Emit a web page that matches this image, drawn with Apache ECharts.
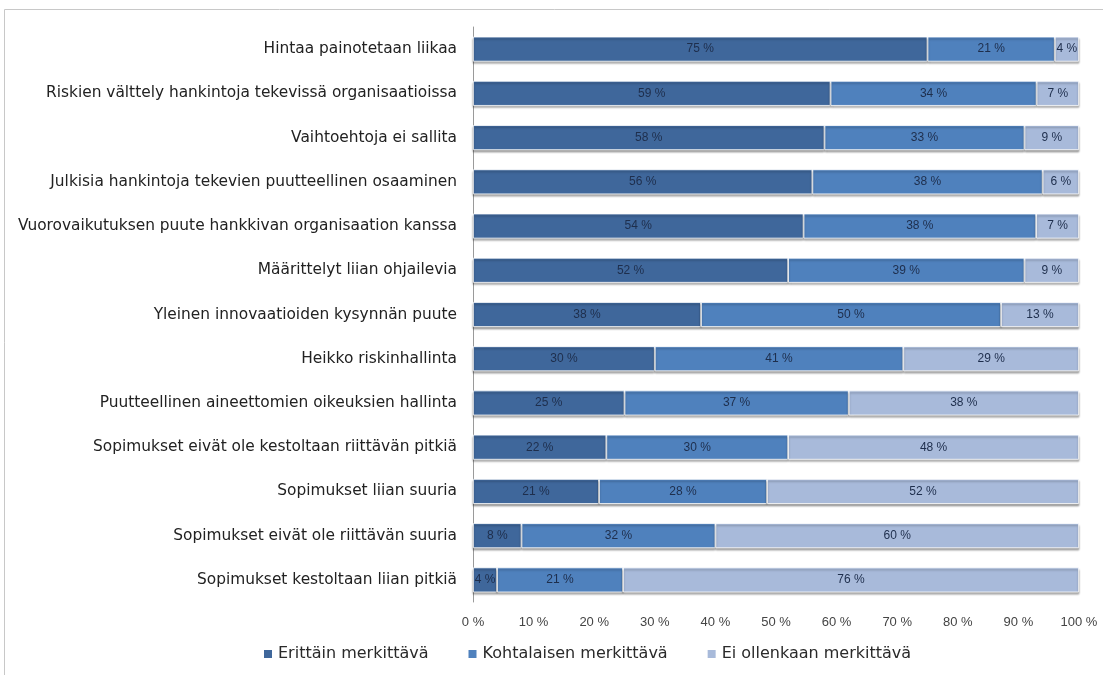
<!DOCTYPE html>
<html><head><meta charset="utf-8">
<script src="https://cdn.jsdelivr.net/npm/echarts@6/dist/echarts.min.js"></script>
<style>html,body{margin:0;padding:0;background:#fff}#c{width:1103px;height:675px}</style>
</head><body><div id="c"></div>
<script>
const categories = [
  "Hintaa painotetaan liikaa",
  "Riskien välttely hankintoja tekevissä organisaatioissa",
  "Vaihtoehtoja ei sallita",
  "Julkisia hankintoja tekevien puutteellinen osaaminen",
  "Vuorovaikutuksen puute hankkivan organisaation kanssa",
  "Määrittelyt liian ohjailevia",
  "Yleinen innovaatioiden kysynnän puute",
  "Heikko riskinhallinta",
  "Puutteellinen aineettomien oikeuksien hallinta",
  "Sopimukset eivät ole kestoltaan riittävän pitkiä",
  "Sopimukset liian suuria",
  "Sopimukset eivät ole riittävän suuria",
  "Sopimukset kestoltaan liian pitkiä"
];
const erittain = [75, 59, 58, 56, 54, 52, 38, 30, 25, 22, 21, 8, 4];
const kohtalaisen = [21, 34, 33, 38, 38, 39, 50, 41, 37, 30, 28, 32, 21];
const eiOllenkaan = [4, 7, 9, 6, 7, 9, 13, 29, 38, 48, 52, 60, 76];
const seriesNames = ["Erittäin merkittävä", "Kohtalaisen merkittävä", "Ei ollenkaan merkittävä"];
const xTicks = [0, 10, 20, 30, 40, 50, 60, 70, 80, 90, 100];

const raw = [erittain, kohtalaisen, eiOllenkaan];
const totals = categories.map((_, i) => erittain[i] + kohtalaisen[i] + eiOllenkaan[i]);
const colors = ['#3F679B', '#4F81BD', '#A8BADA'];
const font = 'Liberation Sans';
const wide = 'DejaVu Sans';

const chart = echarts.init(document.getElementById('c'));
chart.setOption({
  animation: false,
  graphic: [{type: 'rect', shape: {x: 4.5, y: 9.5, width: 1120, height: 700}, style: {fill: 'none', stroke: '#c8c8c8', lineWidth: 1}, silent: true}],
  grid: {left: 473, right: 24, top: 27, bottom: 73, containLabel: false},
  legend: {
    bottom: 8, left: 257, itemWidth: 10, itemHeight: 10, itemGap: 38, icon: 'rect',
    textStyle: {fontFamily: wide, fontSize: 16, color: '#2a2a2a'},
    data: seriesNames
  },
  xAxis: {
    type: 'value', min: 0, max: 100, interval: 10,
    axisLine: {show: false}, axisTick: {show: false}, splitLine: {show: false},
    axisLabel: {formatter: v => xTicks.includes(v) ? v + ' %' : '', fontFamily: font, fontSize: 13, color: '#444', margin: 14}
  },
  yAxis: {
    type: 'category', inverse: true, data: categories,
    axisLine: {show: true, lineStyle: {color: '#9a9a9a', width: 1}}, axisTick: {show: false},
    axisLabel: {fontFamily: wide, fontSize: 15.4, color: '#222', margin: 16}
  },
  series: raw.map((arr, s) => ({
    name: seriesNames[s], type: 'bar', stack: 'all', barWidth: 25,
    itemStyle: {color: colors[s], borderColor: '#fff', borderWidth: 0.8, shadowColor: 'rgba(0,0,0,0.35)', shadowOffsetY: 2, shadowBlur: 2},
    label: {show: true, position: 'inside', fontFamily: font, fontSize: 12, color: '#1E2E4C',
      formatter: p => raw[s][p.dataIndex] + ' %'},
    data: arr.map((v, i) => v / totals[i] * 100)
  }))
});
</script></body></html>
